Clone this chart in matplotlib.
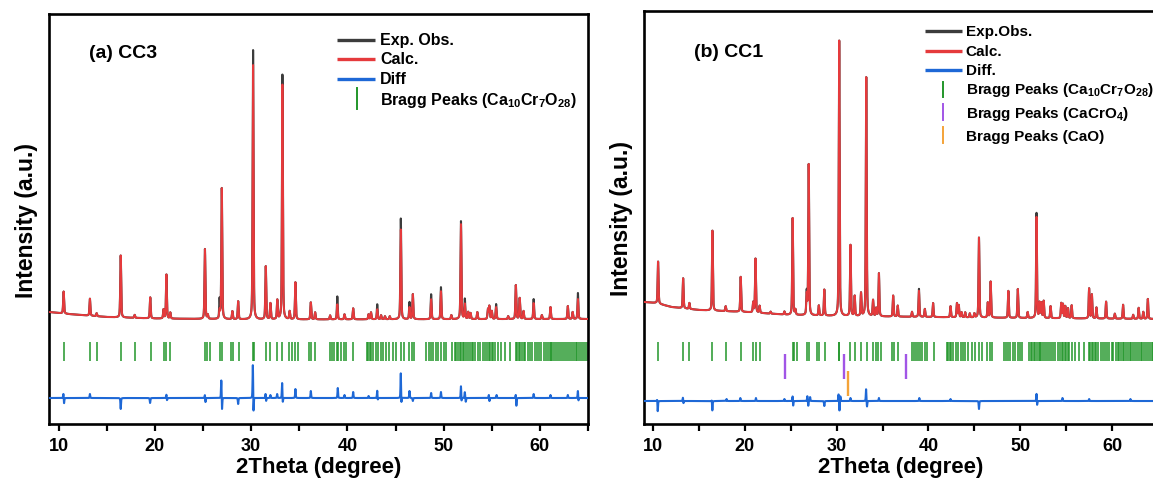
import numpy as np
import matplotlib
matplotlib.use("Agg")
import matplotlib.pyplot as plt

plt.rcParams['font.family'] = ['Liberation Sans', 'DejaVu Sans']
plt.rcParams['font.weight'] = 'bold'
plt.rcParams['mathtext.fontset'] = 'custom'
plt.rcParams['mathtext.rm'] = 'Liberation Sans:bold'
plt.rcParams['mathtext.bf'] = 'Liberation Sans:bold'

# ---------------- data: panel (a) CC3 ----------------
a_bg_pos = [9, 11, 15, 20, 30, 65]
a_bg_lvl = [112, 110, 107, 105.5, 104.5, 105]
a_peak_pos = [10.52, 13.25, 13.95, 16.45, 17.9, 19.52, 20.9, 21.2, 21.6, 25.2, 25.5, 26.72, 26.95,
              28.05, 28.65, 30.2, 31.52, 32.0, 32.72, 33.25, 34.0, 34.6, 36.2, 36.65, 38.2, 38.95,
              39.7, 40.6, 42.2, 42.45, 43.1, 43.5, 43.9, 44.4, 45.55, 46.45, 46.8, 48.7, 49.72, 50.8,
              51.8, 52.2, 52.55, 52.8, 53.5, 54.6, 54.75, 55.0, 55.45, 56.7, 57.5, 57.9, 58.3, 59.35,
              60.2, 61.1, 62.9, 63.4, 63.95]
a_peak_int = [22, 17, 3, 62, 3, 21, 9, 44, 6, 70, 4, 8, 131,
              8, 18, 255, 53, 16, 19, 235, 8, 37, 17, 7, 4, 15,
              5, 11, 5, 7, 10, 4, 3, 3, 90, 12, 25, 20, 28, 4,
              95, 15, 7, 6, 7, 10, 13, 8, 12, 3, 34, 21, 8, 16,
              4, 12, 13, 7, 20]
a_obs_pos = [26.72, 30.2, 33.25, 38.95, 43.1, 45.55, 46.45, 48.7, 49.72, 51.8, 52.2, 55.45, 59.35, 63.95]
a_obs_extra = [11, 15, 10, 8, 5, 11, 5, 5, 4, 3, 5, 3, 4, 6]
a_diff_pos = [10.5, 10.56, 13.25, 16.45, 19.5, 21.2, 21.25, 25.2, 25.25, 26.9, 26.97, 28.65, 30.18,
              30.24, 31.5, 31.55, 32.0, 32.7, 33.22, 33.28, 34.6, 36.2, 39.0, 39.7, 40.6, 42.2, 43.1,
              43.15, 45.55, 45.6, 46.45, 46.8, 48.7, 49.72, 51.8, 51.85, 52.2, 52.3, 54.7, 54.75, 55.5,
              57.5, 57.55, 59.35, 61.1, 62.9, 63.95, 64.0]
a_diff_amp = [5, -6, 4, -11, -5, 4, -3, 4, -5, 19, -13, -6, 36,
              -18, 5, -4, 3, 4, 16, -6, 9, 7, 10, 3, 6, 2, 8,
              -3, 27, -9, 7, -3, 5, 6, 13, -5, 6, -4, 4, -4, 3,
              5, -9, 4, 3, 3, 8, -4]
a_diff_base = 26

# Bragg reflections of Ca10Cr7O28 (shared by both panels)
bragg_main = [10.52, 13.25, 13.95, 16.45, 17.9, 19.55, 20.9, 21.2, 21.6,
              25.2, 25.4, 25.7, 26.75, 26.95, 27.9, 28.1, 28.7, 30.2, 30.25,
              31.5, 31.95, 32.7, 33.25, 33.95, 34.25, 34.55, 34.85, 36.05, 36.25, 36.65,
              38.2, 38.4, 38.65, 38.9, 39.05, 39.3, 39.6, 39.85, 40.6,
              42.0, 42.15, 42.3, 42.5, 42.7, 43.0, 43.2, 43.5, 43.75, 44.0, 44.35, 44.7, 45.1,
              45.55, 45.85, 46.4, 46.7, 46.95,
              48.2, 48.45, 48.7, 48.9, 49.2, 49.45, 49.7, 50.0, 50.2,
              50.9, 51.15, 51.3, 51.5, 51.65, 51.8, 52.0, 52.15, 52.3, 52.5, 52.7, 52.9, 53.1,
              53.3, 53.6, 53.8, 54.1, 54.3, 54.55, 54.7, 54.85, 55.0, 55.15, 55.35, 55.6, 56.0,
              56.4, 56.9,
              57.5, 57.65, 57.8, 57.95, 58.1, 58.3, 58.5, 58.75, 59.0, 59.2, 59.45, 59.7, 59.95,
              60.15, 60.4, 60.6, 60.8, 61.0, 61.15, 61.3, 61.5, 61.7, 61.9, 62.1, 62.3, 62.5,
              62.7, 62.9, 63.1, 63.3, 63.5, 63.7, 63.9, 64.1, 64.3, 64.5, 64.7, 64.9]

# ---------------- data: panel (b) CC1 ----------------
b_bg_pos = [9, 10.3, 12, 15, 20, 25, 30, 40, 50, 65]
b_bg_lvl = [122, 121, 117, 114, 112, 109, 108, 107, 106, 105]
b_peak_pos = [10.54, 13.27, 13.95, 16.46, 17.9, 19.54, 20.9, 21.15, 21.6, 22.8, 24.3, 25.2, 25.5,
              26.73, 26.95, 28.05, 28.65, 30.27, 31.5, 31.96, 32.65, 33.22, 33.96, 34.3, 34.6, 36.15,
              36.65, 38.2, 38.96, 39.6, 40.5, 42.4, 43.1, 43.3, 43.6, 44.0, 44.5, 45.0, 45.5, 46.46,
              46.77, 48.7, 49.73, 50.8, 51.77, 52.1, 52.3, 52.55, 53.3, 54.46, 54.65, 54.9, 55.2,
              55.6, 57.5, 57.8, 58.3, 59.35, 60.3, 61.2, 62.3, 62.9, 63.4, 63.9]
b_peak_int = [42, 30, 6, 80, 5, 35, 10, 54, 7, 2, 3, 97, 5,
              20, 151, 10, 26, 276, 71, 20, 23, 239, 16, 8, 43, 21,
              11, 5, 26, 8, 14, 11, 14, 12, 5, 5, 4, 4, 80, 15,
              36, 27, 29, 6, 101, 15, 15, 17, 12, 15, 14, 12, 10,
              13, 30, 24, 11, 17, 5, 14, 4, 11, 7, 20]
b_obs_pos = [26.73, 38.96, 51.77]
b_obs_extra = [3, 2, 4]
b_diff_pos = [10.45, 10.5, 13.25, 13.3, 16.4, 16.45, 18.0, 19.5, 21.2, 24.3, 25.2, 25.25, 26.8,
              26.9, 27.1, 28.65, 30.2, 30.3, 30.4, 31.5, 33.2, 33.3, 34.6, 39.0, 42.4, 45.5, 51.77,
              51.83, 54.6, 57.5, 62.0]
b_diff_amp = [3, -11, 4, -3, 2, -10, 2, 3, 3, 2, 6, -6, 5,
              -5, 4, -5, 7, -10, 5, 3, 12, -6, 3, 3, 2, -8, 8,
              -5, 3, 2, 2]
b_diff_base = 23
bragg_cacro4 = [24.4, 30.75, 37.5]
bragg_cao = [31.2]

# ---------------- colours ----------------
C_OBS = '#3c3c3c'
C_CALC = '#e53a3c'
C_DIFF = '#1e68d6'
C_GREEN = '#22962a'
C_PURPLE = '#a155e6'
C_ORANGE = '#f4a338'

two_theta = np.linspace(9, 65, 8001)


def profile(pos, amp, fwhm):
    y = np.zeros_like(two_theta)
    g = fwhm / 2.0
    for p, a in zip(pos, amp):
        lor = 1.0 / (1.0 + ((two_theta - p) / g) ** 2)
        gau = np.exp(-np.log(2) * ((two_theta - p) / g) ** 2)
        y += a * (0.6 * gau + 0.4 * lor)
    return y


def panel(ax, bg_pos, bg_lvl, pk_pos, pk_int, ob_pos, ob_ext, df_pos, df_amp, df_base,
          ylim, label, label_xy, legend_cfg, extra_bragg, leg_fs):
    bg = np.interp(two_theta, bg_pos, bg_lvl)
    calc = bg + profile(pk_pos, pk_int, 0.11)
    obs = calc + profile(ob_pos, ob_ext, 0.08)
    diff = df_base + profile(df_pos, df_amp, 0.07)

    ax.plot(two_theta, obs, color=C_OBS, lw=1.5, zorder=2)
    ax.plot(two_theta, calc, color=C_CALC, lw=1.4, zorder=3)
    ax.plot(two_theta, diff, color=C_DIFF, lw=1.5, zorder=3)
    ax.vlines(bragg_main, 63, 82, color=C_GREEN, lw=1.1, zorder=2)
    for pos, y0, y1, col in extra_bragg:
        ax.vlines(pos, y0, y1, color=col, lw=1.7, zorder=2)

    ax.set_xlim(9, 65)
    ax.set_ylim(*ylim)
    ax.set_yticks([])
    ax.set_xticks([10, 20, 30, 40, 50, 60])
    ax.set_xticks([15, 25, 35, 45, 55, 65], minor=True)
    ax.tick_params(axis='x', which='both', direction='out', length=5, width=1.6,
                   labelsize=13, pad=4)
    for t in ax.get_xticklabels():
        t.set_fontweight('bold')
    for s in ax.spines.values():
        s.set_linewidth(1.9)
    ax.set_xlabel('2Theta (degree)', fontsize=16, fontweight='bold', labelpad=2)
    ax.set_ylabel('Intensity (a.u.)', fontsize=16.5, fontweight='bold', labelpad=8)
    ax.text(label_xy[0], label_xy[1], label, transform=ax.transAxes, fontsize=14,
            fontweight='bold', va='center', ha='left')

    x0, x1, xt, xb, rows = legend_cfg
    for kind, text, col, fy, bar in rows:
        if kind == 'line':
            ax.plot([x0, x1], [fy, fy], color=col, lw=2.4, transform=ax.transAxes,
                    solid_capstyle='butt', clip_on=False)
        else:
            ax.plot([xb, xb], [bar[0], bar[1]], color=col, lw=1.4, transform=ax.transAxes,
                    clip_on=False)
        ax.text(xt, fy, text, transform=ax.transAxes, fontsize=leg_fs, fontweight='bold',
                va='center', ha='left')


fig = plt.figure(figsize=(11.53, 4.81), dpi=100)
axa = fig.add_axes([0.0425, 0.1164, 0.4675, 0.8524])
axb = fig.add_axes([0.5585, 0.1164, 0.4458, 0.8586])

leg_a = (0.534, 0.605, 0.614, 0.571, [
    ('line', 'Exp. Obs.', C_OBS, 0.937, None),
    ('line', 'Calc.', C_CALC, 0.891, None),
    ('line', 'Diff', C_DIFF, 0.842, None),
    ('bar', r'Bragg Peaks (Ca$_{10}$Cr$_{7}$O$_{28}$)', C_GREEN, 0.791, (0.768, 0.820)),
])
panel(axa, a_bg_pos, a_bg_lvl, a_peak_pos, a_peak_int, a_obs_pos, a_obs_extra,
      a_diff_pos, a_diff_amp, a_diff_base, (0, 410), '(a) CC3', (0.074, 0.905), leg_a, [], 11.5)

leg_b = (0.547, 0.619, 0.626, 0.582, [
    ('line', 'Exp.Obs.', C_OBS, 0.952, None),
    ('line', 'Calc.', C_CALC, 0.904, None),
    ('line', 'Diff.', C_DIFF, 0.858, None),
    ('bar', r'Bragg Peaks (Ca$_{10}$Cr$_{7}$O$_{28}$)', C_GREEN, 0.812, (0.792, 0.828)),
    ('bar', r'Bragg Peaks (CaCrO$_{4}$)', C_PURPLE, 0.753, (0.736, 0.775)),
    ('bar', 'Bragg Peaks (CaO)', C_ORANGE, 0.698, (0.680, 0.719)),
])
panel(axb, b_bg_pos, b_bg_lvl, b_peak_pos, b_peak_int, b_obs_pos, b_obs_extra,
      b_diff_pos, b_diff_amp, b_diff_base, (0, 413), '(b) CC1', (0.097, 0.903), leg_b,
      [(bragg_cacro4, 45, 70, C_PURPLE), (bragg_cao, 28, 53, C_ORANGE)], 11)

fig.savefig('out.png', dpi=100)
